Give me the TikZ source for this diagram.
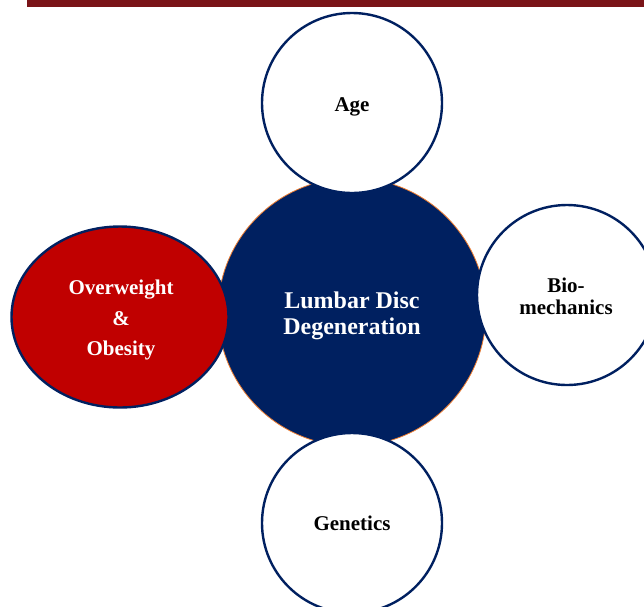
\documentclass[tikz,border=0pt]{standalone}
\usepackage{fontspec}
\setmainfont{Liberation Serif}
\usetikzlibrary{shapes.geometric}
\definecolor{navy}{RGB}{0,32,96}
\definecolor{darkred}{RGB}{192,0,0}
\definecolor{barred}{RGB}{122,20,24}
\definecolor{hubedge}{RGB}{237,125,49}
\tikzset{
  factor/.style={circle, draw=navy, line width=2.4pt, fill=white, minimum size=180pt, inner sep=0pt},
  hub/.style={circle, draw=hubedge, line width=0.8pt, fill=navy, minimum size=268pt, inner sep=0pt},
  tag/.style={align=center, font=\bfseries\fontsize{21}{22}\selectfont},
}
\begin{document}
\begin{tikzpicture}[x=1pt,y=-1pt]
	\useasboundingbox (0,0) rectangle (644,606);
	\fill[barred] (27,0) rectangle (644,7);
	\node[hub] at (352,312) (lumbar) {};
	\node[factor] at (352,103) (age) {};
	\node[factor] at (567,295) (bio) {};
	\node[factor] at (352,523) (genetics) {};
	\node[ellipse, draw=navy, line width=2.4pt, fill=darkred, minimum width=217pt, minimum height=181pt, inner sep=0pt] at (120,317) (obesity) {};
	\node[tag, text=white, font=\bfseries\fontsize{24}{26}\selectfont] at (352,316) (lumbartxt) {Lumbar Disc\\Degeneration};
	\node[tag] at (352,107) (agetxt) {Age};
	\node[tag] at (566,296) (biotxt) {Bio-\\mechanics};
	\node[tag] at (352,523) (genetxt) {Genetics};
	\node[tag, text=white, font=\bfseries\fontsize{21}{30.5}\selectfont] at (121,320) (obesitytxt) {Overweight\\\&\\Obesity};
\end{tikzpicture}
\end{document}
